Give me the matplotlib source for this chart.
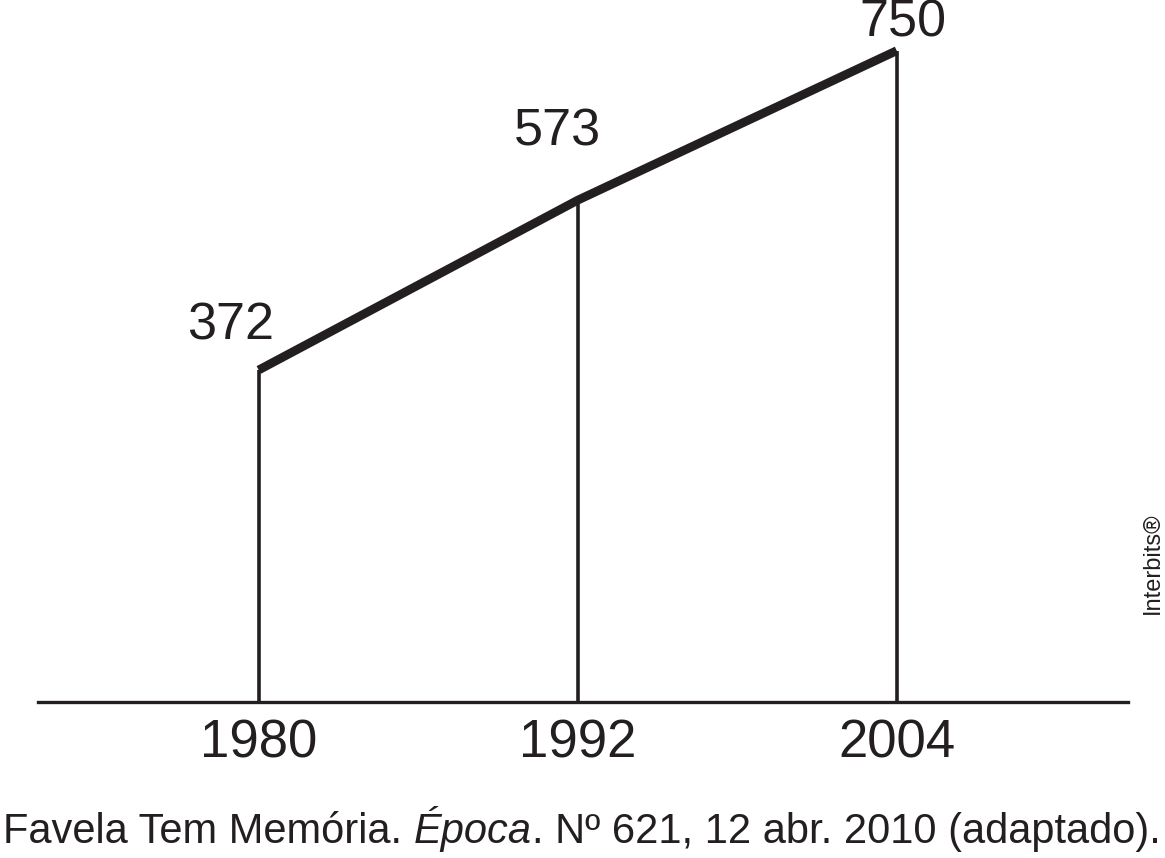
import matplotlib.pyplot as plt

plt.rcParams['font.family'] = ['Liberation Sans', 'DejaVu Sans']

years = [1980, 1992, 2004]
values = [372, 573, 750]
year_labels = ['1980', '1992', '2004']
caption_parts = ['Favela Tem Memória. ', 'Época', '. Nº 621, 12 abr. 2010 (adaptado).']

ink = '#231f20'

fig = plt.figure(figsize=(11.65, 8.58), dpi=100)
ax = fig.add_axes([38 / 1165, (858 - 702) / 858, 1090 / 1165, 702 / 858])
ax.set_xlim(1971.7, 2012.7)
ax.set_ylim(-21, 810)
ax.axis('off')

# baseline
ax.axhline(-21, color=ink, lw=2.4, clip_on=False)

# verticals
ax.vlines(years, -21, values, color=ink, lw=2.6)

# thick top line
ax.plot(years, values, color=ink, lw=6.3, solid_capstyle='butt', solid_joinstyle='miter')

# value labels (offsets in points)
label_offsets = [(-20.5, 22.3), (-14.8, 39.6), (4.7, 10)]
for x, v, off in zip(years, values, label_offsets):
    ax.annotate(str(v), (x, v), xytext=off, textcoords='offset points',
                ha='center', va='baseline', fontsize=37.5, color=ink)

# year labels
for x, lab in zip(years, year_labels):
    ax.annotate(lab, (x, -21), xytext=(0, -39.6), textcoords='offset points',
                ha='center', va='baseline', fontsize=38, color=ink, annotation_clip=False)

# caption
cap_y = (858 - 843) / 858
r = fig.canvas.get_renderer()
t0 = fig.text(3 / 1165, cap_y, caption_parts[0], fontsize=30, va='baseline', ha='left', color=ink)
bb = t0.get_window_extent(r)
t1 = fig.text(bb.x1 / 1165, cap_y, caption_parts[1], fontsize=30, style='italic', va='baseline', ha='left', color=ink)
bb1 = t1.get_window_extent(r)
fig.text(bb1.x1 / 1165, cap_y, caption_parts[2], fontsize=30, va='baseline', ha='left', color=ink)

# watermark
fig.text(1153 / 1165, 1 - 563 / 858, 'Interbits®', fontsize=17, rotation=90, va='center', ha='center', color=ink)

fig.savefig('out.png', dpi=100)
